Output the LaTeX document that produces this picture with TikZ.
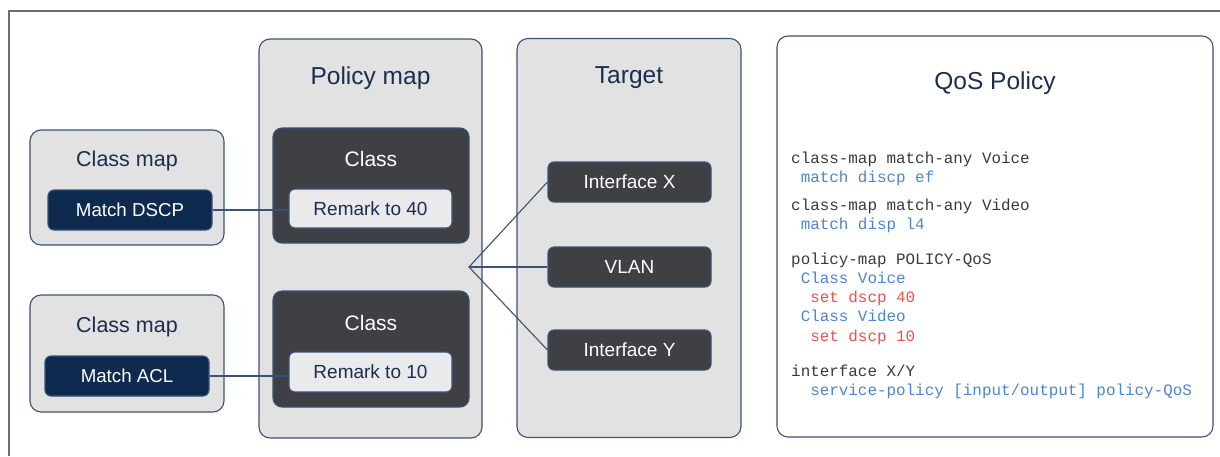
\documentclass[tikz,border=0pt]{standalone}
\usepackage{fontspec}
\setmainfont{Liberation Sans}
\setmonofont{Liberation Mono}
\definecolor{navy}{HTML}{1B2E50}
\definecolor{edge}{HTML}{3B5177}
\definecolor{panel}{HTML}{E2E2E3}
\definecolor{darkbox}{HTML}{3F4043}
\definecolor{matchbox}{HTML}{0E2A4F}
\definecolor{remarkbox}{HTML}{EAEAEC}
\definecolor{frame}{HTML}{6E6E6E}
\definecolor{codegray}{HTML}{3A3A3A}
\definecolor{codeblue}{HTML}{4A86D2}
\definecolor{codered}{HTML}{EA5450}
\tikzset{
  box/.style={rectangle, draw=edge, line width=1.1pt, inner sep=0pt, anchor=center},
  panelbox/.style={box, fill=panel, rounded corners=11pt},
  whitebox/.style={box, fill=white, rounded corners=11pt},
  classbox/.style={box, fill=darkbox, rounded corners=9pt},
  matchnode/.style={box, fill=matchbox, rounded corners=6pt, minimum width=164pt, minimum height=40pt,
    text=white, font=\fontsize{18.7}{20}\selectfont},
  remark/.style={box, fill=remarkbox, rounded corners=6pt, minimum width=163pt, minimum height=39pt,
    text=navy, font=\fontsize{19}{21}\selectfont},
  target/.style={box, fill=darkbox, rounded corners=6pt, minimum width=163pt, minimum height=40pt,
    text=white, font=\fontsize{19}{21}\selectfont},
  bigtitle/.style={text=navy, font=\fontsize{24.5}{26}\selectfont, inner sep=0pt},
  midtitle/.style={text=navy, font=\fontsize{21.5}{23}\selectfont, inner sep=0pt},
  classtitle/.style={text=white, font=\fontsize{21}{23}\selectfont, inner sep=0pt},
  link/.style={draw=edge, line width=1.1pt},
  code/.style={anchor=base west, inner sep=0pt, font=\fontsize{15.9}{17}\ttfamily},
}
\begin{document}
\begin{tikzpicture}[x=1pt, y=-1pt]
\useasboundingbox (0,0) rectangle (1220,456);
% outer frame (top and left edges in view)
\draw[frame, line width=1.5pt] (9,456) -- (9,11) -- (1220,11);

% class maps
\node[panelbox, minimum width=194pt, minimum height=115pt] (cm1) at (127,187.5) {};
\node[midtitle] (cm1t) at (127,161) {Class map};
\node[matchnode] (dscp) at (130,210) {Match DSCP};
\node[panelbox, minimum width=194pt, minimum height=117pt] (cm2) at (127,353.5) {};
\node[midtitle] (cm2t) at (127,327) {Class map};
\node[matchnode] (acl) at (127,376) {Match ACL};

% policy map
\node[panelbox, minimum width=223pt, minimum height=399pt] (pm) at (370.5,238.5) {};
\node[bigtitle] (pmt) at (370.5,78) {Policy map};
\node[classbox, minimum width=196pt, minimum height=115pt] (c1) at (371,185.5) {};
\node[classtitle] (c1t) at (371,159) {Class};
\node[remark] (r40) at (370.5,208.5) {Remark to 40};
\node[classbox, minimum width=196pt, minimum height=116pt] (c2) at (371,349) {};
\node[classtitle] (c2t) at (371,323) {Class};
\node[remark, minimum height=40pt] (r10) at (370.5,372) {Remark to 10};

% target
\node[panelbox, minimum width=224pt, minimum height=399pt] (tg) at (629,238) {};
\node[bigtitle] (tgt) at (629,78) {Target};
\node[target] (ifx) at (629.5,182) {Interface X};
\node[target] (vlan) at (629.5,267) {VLAN};
\node[target] (ify) at (629.5,350) {Interface Y};

% connectors
\coordinate (fan) at (469,267);
\draw[link] (dscp.east) -- (dscp.east -| r40.west);
\draw[link] (acl.east) -- (acl.east -| r10.west);
\draw[link] (ifx.west) -- (fan) -- (ify.west);
\draw[link] (fan) -- (vlan.west);

% QoS policy listing
\node[whitebox, minimum width=436pt, minimum height=401pt] (qos) at (995,236.5) {};
\node[bigtitle] (qost) at (995,83) {QoS Policy};
\node[code, text=codegray] (l1) at (791,163) {class-map match-any Voice};
\node[code, text=codeblue] (l2) at (791,182.5) {\ match discp ef};
\node[code, text=codegray] (l3) at (791,210) {class-map match-any Video};
\node[code, text=codeblue] (l4) at (791,229.5) {\ match disp l4};
\node[code, text=codegray] (l5) at (791,264) {policy-map POLICY-QoS};
\node[code, text=codeblue] (l6) at (791,283) {\ Class Voice};
\node[code, text=codered] (l7) at (791,302) {\ \ set dscp 40};
\node[code, text=codeblue] (l8) at (791,321) {\ Class Video};
\node[code, text=codered] (l9) at (791,341) {\ \ set dscp 10};
\node[code, text=codegray] (l10) at (791,376) {interface X/Y};
\node[code, text=codeblue] (l11) at (791,395) {\ \ service-policy [input/output] policy-QoS};
\end{tikzpicture}
\end{document}
